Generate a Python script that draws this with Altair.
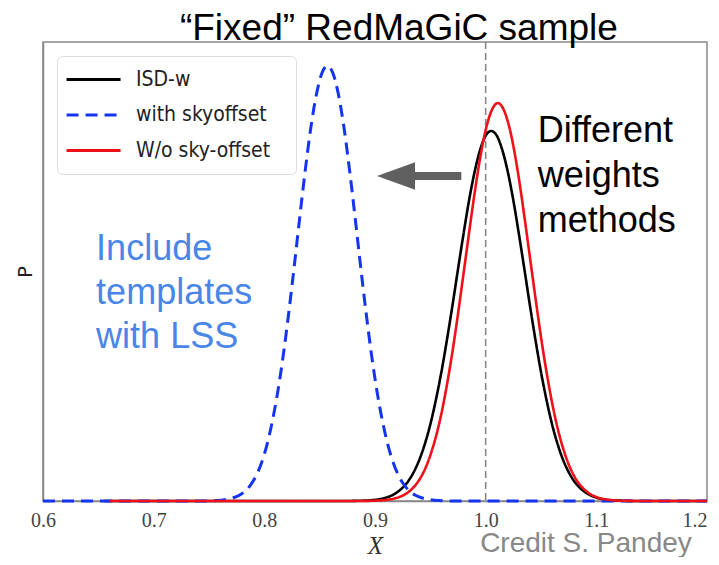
import altair as alt
import pandas as pd

# ---------------- data ----------------
series_names = ["ISD-w", "with skyoffset", "W/o sky-offset"]
series_colors = ["#000000", "#1434f0", "#f01018"]
series_dashes = [[1, 0], [12, 7], [1, 0]]
series_widths = [2.6, 3.0, 2.6]

isd_x = [0.655, 0.870, 0.885, 0.895,
         0.905, 0.910, 0.915, 0.920, 0.925, 0.930, 0.935, 0.940, 0.945, 0.950,
         0.955, 0.960, 0.965, 0.970, 0.975, 0.980, 0.985, 0.990, 0.995, 1.000,
         1.005, 1.010, 1.015, 1.020, 1.025, 1.030, 1.035, 1.040, 1.045, 1.050,
         1.055, 1.060, 1.065, 1.070, 1.075, 1.080, 1.085, 1.090, 1.095, 1.100,
         1.105, 1.115, 1.125, 1.140, 1.200]
isd_p = [0, 0, 0.0005, 0.0015,
         0.0044, 0.0074, 0.012, 0.019, 0.029, 0.043, 0.063, 0.0895, 0.124, 0.167,
         0.220, 0.281, 0.351, 0.426, 0.505, 0.582, 0.655, 0.717, 0.765, 0.796,
         0.806, 0.796, 0.765, 0.717, 0.655, 0.582, 0.505, 0.426, 0.351, 0.281,
         0.220, 0.167, 0.124, 0.0895, 0.063, 0.043, 0.029, 0.019, 0.012, 0.0074,
         0.0044, 0.0015, 0.0005, 0, 0]

sky_x = [0.600, 0.740, 0.757,
         0.767, 0.772, 0.777, 0.782, 0.787, 0.792, 0.797, 0.802, 0.807, 0.812,
         0.817, 0.822, 0.827, 0.832, 0.837, 0.842, 0.847, 0.852, 0.857, 0.862,
         0.867, 0.872, 0.877, 0.882, 0.887, 0.892, 0.897, 0.902, 0.907, 0.912,
         0.917, 0.922, 0.927, 0.932, 0.937, 0.942, 0.947,
         0.957, 0.975, 1.200]
sky_p = [0, 0, 0.001,
         0.004, 0.007, 0.012, 0.020, 0.033, 0.052, 0.080, 0.119, 0.171, 0.236,
         0.316, 0.409, 0.511, 0.618, 0.721, 0.813, 0.885, 0.932, 0.948, 0.932,
         0.885, 0.813, 0.721, 0.618, 0.511, 0.409, 0.316, 0.236, 0.171, 0.119,
         0.080, 0.052, 0.033, 0.020, 0.012, 0.007, 0.004,
         0.001, 0, 0]

nosky_x = [0.660, 0.880, 0.891, 0.901,
           0.911, 0.916, 0.921, 0.926, 0.931, 0.936, 0.941, 0.946, 0.951, 0.956,
           0.961, 0.966, 0.971, 0.976, 0.981, 0.986, 0.991, 0.996, 1.001, 1.006,
           1.011, 1.016, 1.021, 1.026, 1.031, 1.036, 1.041, 1.046, 1.051, 1.056,
           1.061, 1.066, 1.071, 1.076, 1.081, 1.086, 1.091, 1.096, 1.101, 1.106,
           1.111, 1.121, 1.131, 1.150, 1.200]
nosky_p = [0, 0, 0.0002, 0.0008,
           0.0026, 0.0045, 0.0078, 0.013, 0.021, 0.033, 0.050, 0.074, 0.107, 0.149,
           0.202, 0.267, 0.341, 0.425, 0.513, 0.602, 0.687, 0.761, 0.818, 0.854,
           0.867, 0.854, 0.818, 0.761, 0.687, 0.602, 0.513, 0.425, 0.341, 0.267,
           0.202, 0.149, 0.107, 0.074, 0.050, 0.033, 0.021, 0.013, 0.0078, 0.0045,
           0.0026, 0.0008, 0.0002, 0, 0]

x_ticks = [0.6, 0.7, 0.8, 0.9, 1.0, 1.1, 1.2]
ref_x = [1.0]

title_text = "\u201cFixed\u201d RedMaGiC sample"
left_note = "Include\ntemplates\nwith LSS"
right_note = "Different\nweights\nmethods"
credit_note = "Credit S. Pandey"

title_x = [0.9216]
title_p = [1.0033]
note_x = [0.648, 1.047]
note_p = [0.525, 0.782]
credit_x = [0.995]
credit_p = [-0.1105]
arrow_tail_x = [0.978]
arrow_neck_x = [0.936]
arrow_head_x = [0.919]
arrow_p = [0.708]

# ---------------- tables ----------------
rows = []
for name, xs, ps in [(series_names[0], isd_x, isd_p),
                     (series_names[1], sky_x, sky_p),
                     (series_names[2], nosky_x, nosky_p)]:
    for xv, pv in zip(xs, ps):
        rows.append({"series": name, "X": xv, "P": pv})
df = pd.DataFrame(rows)

xscale = alt.Scale(domain=[0.6, 1.2], nice=False, zero=False)
yscale = alt.Scale(domain=[0, 1], nice=False, zero=False)

x_axis = alt.Axis(values=x_ticks, format=".1f", ticks=False, grid=False,
                  labelFont="Liberation Serif", labelFontSize=20, labelColor="#444444",
                  labelPadding=9, labelFlush=False,
                  labelAlign={"condition": {"test": "datum.value > 1.15", "value": "right"},
                              "value": "center"},
                  domainColor="#888888", domainWidth=1.5,
                  title="X", titleFont="Liberation Serif", titleFontStyle="italic",
                  titleFontWeight="normal", titleFontSize=25, titleColor="#333333",
                  titlePadding=3)
y_axis = alt.Axis(labels=False, ticks=False, grid=False, domainColor="#888888",
                  domainWidth=1.5, title="P", titleFont="DejaVu Sans", titleFontSize=20,
                  titleFontWeight="normal", titleColor="#222222", titlePadding=8)

legend_title = "\u00a0"
color = alt.Color("series:N", title=legend_title,
                  scale=alt.Scale(domain=series_names, range=series_colors))
dash = alt.StrokeDash("series:N", title=legend_title,
                      scale=alt.Scale(domain=series_names, range=series_dashes))

base = alt.Chart(df)
layers = []

rule = alt.Chart(pd.DataFrame({"X": ref_x})).mark_rule(
    color="#888888", strokeDash=[7, 4], strokeWidth=1.6
).encode(x=alt.X("X:Q", scale=xscale, axis=x_axis))
layers.append(rule)

for name, w in zip(series_names, series_widths):
    layers.append(
        base.transform_filter(alt.datum.series == name)
        .mark_line(strokeWidth=w, interpolate="monotone")
        .encode(x=alt.X("X:Q", scale=xscale, axis=x_axis),
                y=alt.Y("P:Q", scale=yscale, axis=y_axis),
                color=color, strokeDash=dash)
    )

arrow_df = pd.DataFrame({"x1": arrow_neck_x, "x2": arrow_tail_x,
                         "xh": arrow_head_x, "p": arrow_p})
arrow_body = alt.Chart(arrow_df).mark_rule(color="#606060", strokeWidth=8).encode(
    x=alt.X("x1:Q", scale=xscale), x2="x2:Q", y=alt.Y("p:Q", scale=yscale))
arrow_head = alt.Chart(arrow_df).mark_point(
    shape="M-1,0L1,-0.72L1,0.72Z", filled=True, color="#606060", opacity=1, size=1444
).encode(x=alt.X("xh:Q", scale=xscale), y=alt.Y("p:Q", scale=yscale))
layers += [arrow_body, arrow_head]

title_txt = alt.Chart(pd.DataFrame({"x": title_x, "p": title_p, "t": [title_text]})).mark_text(
    align="center", baseline="alphabetic", font="Liberation Sans", fontSize=37,
    color="#000000"
).encode(x=alt.X("x:Q", scale=xscale), y=alt.Y("p:Q", scale=yscale), text="t:N")
left_txt = alt.Chart(pd.DataFrame({"x": [note_x[0]], "p": [note_p[0]], "t": [left_note]})).mark_text(
    align="left", baseline="alphabetic", font="Liberation Sans", fontSize=36,
    color="#4a86e8", lineBreak="\n", lineHeight=44
).encode(x=alt.X("x:Q", scale=xscale), y=alt.Y("p:Q", scale=yscale), text="t:N")
right_txt = alt.Chart(pd.DataFrame({"x": [note_x[1]], "p": [note_p[1]], "t": [right_note]})).mark_text(
    align="left", baseline="alphabetic", font="Liberation Sans", fontSize=36,
    color="#000000", lineBreak="\n", lineHeight=45
).encode(x=alt.X("x:Q", scale=xscale), y=alt.Y("p:Q", scale=yscale), text="t:N")
credit_txt = alt.Chart(pd.DataFrame({"x": credit_x, "p": credit_p, "t": [credit_note]})).mark_text(
    align="left", baseline="alphabetic", font="Liberation Sans", fontSize=28,
    color="#888888"
).encode(x=alt.X("x:Q", scale=xscale), y=alt.Y("p:Q", scale=yscale), text="t:N")
layers += [title_txt, left_txt, right_txt, credit_txt]

chart = alt.layer(*layers).properties(
    width=664, height=459,
    autosize=alt.AutoSizeParams(type="none"),
    padding={"left": 35, "top": 34, "right": 4, "bottom": 56},
).configure_view(
    stroke="#888888", strokeWidth=1.5
).configure_legend(
    orient="none", legendX=14, legendY=14,
    symbolType="M-1.55,0L4.45,0", symbolSize=324, symbolStrokeWidth=3,
    labelFont="DejaVu Sans Condensed", labelFontSize=21, labelColor="#222222",
    labelOffset=45, padding=13, rowPadding=13.5, strokeColor="#dddddd",
    fillColor="#ffffff", cornerRadius=5,
    titleOrient="right", titlePadding=13, titleFontSize=10, titleColor="#ffffff",
)

chart.save("out.html", embed_options={"renderer": "svg", "actions": False})
